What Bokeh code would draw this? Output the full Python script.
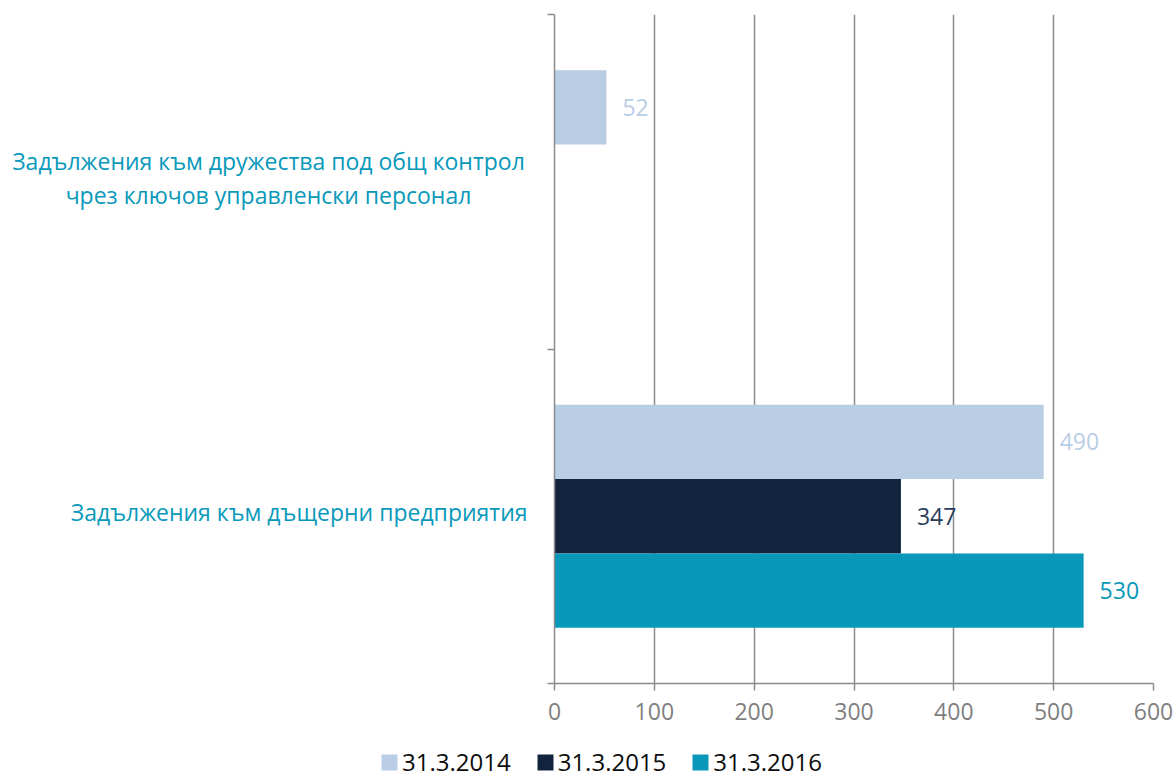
from bokeh.plotting import figure
from bokeh.layouts import row, column
from bokeh.models import (ColumnDataSource, Range1d, FixedTicker, LabelSet,
                          Legend, LegendItem)
from bokeh.core.properties import value
from bokeh.embed import file_html
from bokeh.resources import INLINE

# ---- data ----
categories = ["Задължения към дъщерни предприятия",
              "Задължения към дружества под общ контрол чрез ключов управленски персонал"]
category_lines = [["Задължения към дъщерни предприятия"],
                  ["Задължения към дружества под общ контрол",
                   "чрез ключов управленски персонал"]]
series = ["31.3.2014", "31.3.2015", "31.3.2016"]
values_2014 = [490, 52]
values_2015 = [347, None]
values_2016 = [530, None]
x_ticks = [0, 100, 200, 300, 400, 500, 600]

series_values = [values_2014, values_2015, values_2016]
bar_colors = ["#B9CDE5", "#12233D", "#0898BA"]
label_colors = ["#B9CDE5", "#2B3D5C", "#0898BA"]
cat_color = "#0899BA"
offsets = [0.222, 0.0, -0.222]
bar_h = 0.222

FONT = "Open Sans"
GRID = "#8C8C8C"

TOP, FRAME_H, BOTTOM = 14, 669, 54
LEFT_W = 534

y_range = Range1d(0, 2)

# ---- main plot ----
p = figure(frame_width=599, frame_height=FRAME_H,
           min_border_left=20, min_border_right=23,
           min_border_top=TOP, min_border_bottom=BOTTOM,
           x_range=Range1d(0, 600), y_range=y_range,
           output_backend="svg", toolbar_location=None,
           background_fill_color="white", border_fill_color="white")
p.outline_line_color = None

for name, vals, col, lcol, off in zip(series, series_values, bar_colors, label_colors, offsets):
    ys, xs, txt = [], [], []
    for i, v in enumerate(vals):
        if v is None:
            continue
        ys.append(i + 0.5 + off)
        xs.append(v)
        txt.append(str(v))
    src = ColumnDataSource(dict(y=ys, x=xs, t=txt))
    p.hbar(y="y", right="x", left=0, height=bar_h, source=src,
           fill_color=col, line_color=None)
    ls = LabelSet(x="x", y="y", text="t", source=src, x_offset=16,
                  text_align="left", text_baseline="middle",
                  text_font=value(FONT), text_font_size="23px", text_color=lcol)
    p.add_layout(ls)

p.xaxis.ticker = FixedTicker(ticks=x_ticks)
p.xaxis.axis_line_color = GRID
p.xaxis.axis_line_width = 1.5
p.xaxis.major_tick_line_color = GRID
p.xaxis.major_tick_line_width = 1.5
p.xaxis.major_tick_in = 0
p.xaxis.major_tick_out = 7
p.xaxis.minor_tick_line_color = None
p.xaxis.major_label_text_font = FONT
p.xaxis.major_label_text_font_size = "23px"
p.xaxis.major_label_text_color = "#7F7F7F"
p.xaxis.major_label_standoff = 12

p.yaxis.ticker = FixedTicker(ticks=[0, 1, 2])
p.yaxis.axis_line_color = GRID
p.yaxis.axis_line_width = 1.5
p.yaxis.major_tick_line_color = GRID
p.yaxis.major_tick_line_width = 1.5
p.yaxis.major_tick_in = 0
p.yaxis.major_tick_out = 7
p.yaxis.minor_tick_line_color = None
p.yaxis.major_label_overrides = {0: "", 1: "", 2: ""}
p.yaxis.major_label_standoff = 0

p.xgrid.ticker = FixedTicker(ticks=x_ticks)
p.xgrid.grid_line_color = GRID
p.xgrid.grid_line_width = 1.5
p.ygrid.grid_line_color = None

# ---- category labels (left panel) ----
lp = figure(frame_width=LEFT_W, frame_height=FRAME_H,
            min_border_left=0, min_border_right=0,
            min_border_top=TOP, min_border_bottom=BOTTOM,
            x_range=Range1d(0, LEFT_W), y_range=y_range,
            x_axis_type=None, y_axis_type=None,
            output_backend="svg", toolbar_location=None)
lp.outline_line_color = None
lp.grid.grid_line_color = None

right_edge = LEFT_W - 7
block_center = 268
line_gap = 34
cx, cy, ct, ca, cyo = [], [], [], [], []
for i, lines in enumerate(category_lines):
    n = len(lines)
    for j, line in enumerate(lines):
        cy.append(i + 0.5)
        ct.append(line)
        cyo.append(-4 - ((n - 1) / 2 * line_gap - j * line_gap))
        if n == 1:
            cx.append(right_edge)
            ca.append("right")
        else:
            cx.append(block_center)
            ca.append("center")
csrc = ColumnDataSource(dict(x=cx, y=cy, t=ct, a=ca, yo=cyo))
lp.text(x="x", y="y", text="t", text_align="a", y_offset="yo", source=csrc,
        text_baseline="middle", text_font=value(FONT), text_font_size="23px",
        text_color=cat_color)

# ---- legend strip ----
lg = figure(width=1176, height=778 - (TOP + FRAME_H + BOTTOM),
            min_border=0, x_range=Range1d(0, 1), y_range=Range1d(0, 1),
            x_axis_type=None, y_axis_type=None,
            output_backend="svg", toolbar_location=None)
lg.outline_line_color = None
lg.grid.grid_line_color = None
items = []
for s, col in zip(series, bar_colors):
    # legend proxy: a single bar placed outside the visible range
    proxy = ColumnDataSource(dict(y=[-10], right=[1]))
    r = lg.hbar(y="y", right="right", left=0, height=0.5, source=proxy,
                fill_color=col, line_color=None)
    items.append(LegendItem(label=s, renderers=[r]))
legend = Legend(items=items, orientation="horizontal", location=(379, 0),
                padding=0, margin=0, spacing=24, label_standoff=3,
                glyph_width=20, glyph_height=20, label_height=22,
                label_text_font=FONT, label_text_font_size="24px",
                label_text_color="#0D0D0D", label_text_baseline="middle",
                border_line_color=None, background_fill_alpha=0)
lg.add_layout(legend, "center")

layout = column(row(lp, p), lg)
open("out.html", "w").write(file_html(layout, INLINE))
